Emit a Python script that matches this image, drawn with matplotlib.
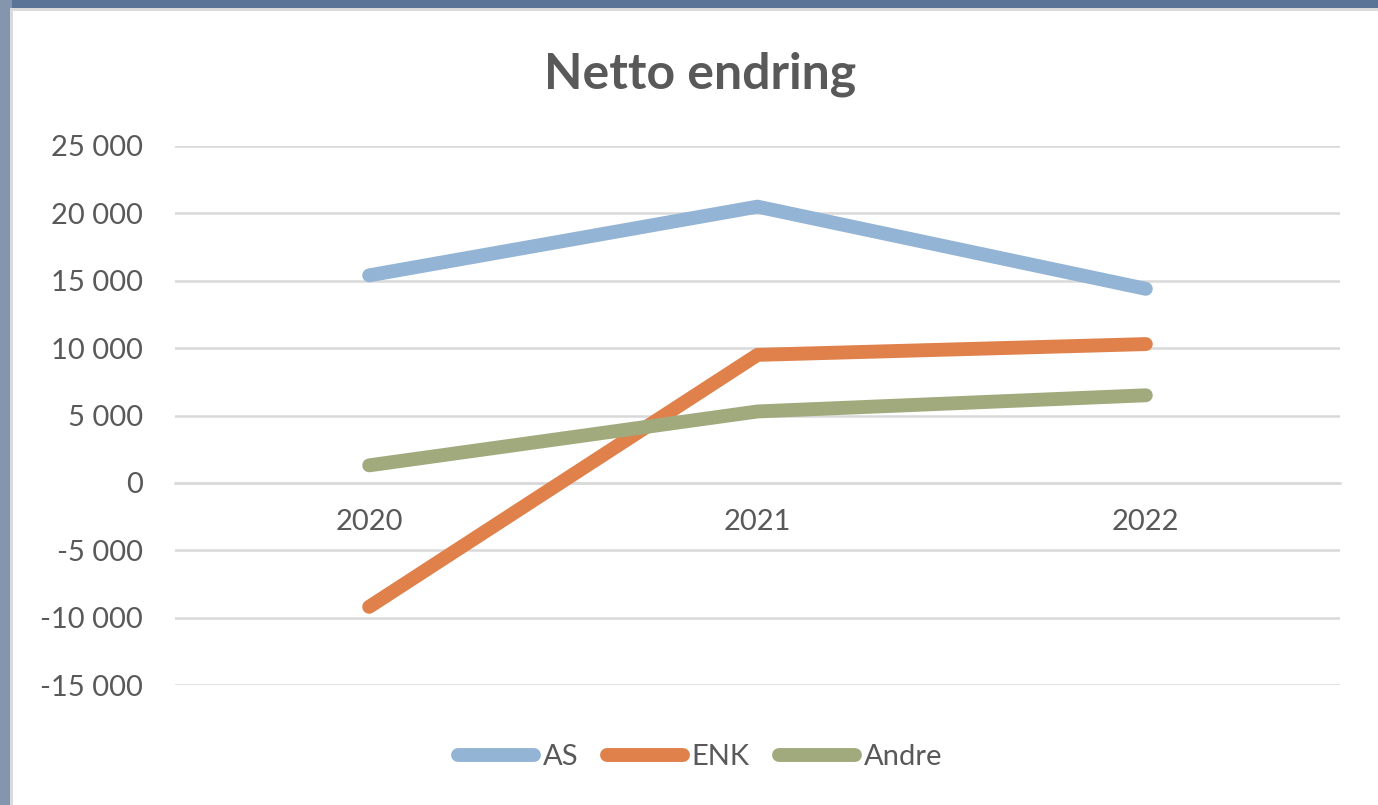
import matplotlib
matplotlib.use("Agg")
import matplotlib.pyplot as plt
from matplotlib.patches import Rectangle
from matplotlib.ticker import FuncFormatter, MultipleLocator

years = ["2020", "2021", "2022"]
as_vals = [15400, 20500, 14400]
enk_vals = [-9200, 9500, 10300]
andre_vals = [1300, 5300, 6500]
series_names = ["AS", "ENK", "Andre"]
colors = ["#93B4D4", "#E0804A", "#A1AA7D"]

plt.rcParams['font.family'] = ['Lato', 'DejaVu Sans']
txt = "#595959"

fig = plt.figure(figsize=(13.78, 8.05), dpi=100)
fig.patch.set_facecolor("#5A7498")
# left photo-ish strip
fig.patches.append(Rectangle((0, 0), 12/1378, 1, transform=fig.transFigure,
                             facecolor="#8496AE", edgecolor="none", zorder=-10))
# white chart area
fig.patches.append(Rectangle((10/1378, 0), 1 - 10/1378, 1 - 8/805, transform=fig.transFigure,
                             facecolor="#DADADA", edgecolor="none", zorder=-9))
fig.patches.append(Rectangle((13/1378, 0), 1 - 13/1378, 1 - 11/805, transform=fig.transFigure,
                             facecolor="white", edgecolor="none", zorder=-8))

ax = fig.add_axes([175/1378, 1 - 685/805, (1340 - 175)/1378, (685 - 146)/805])
ax.set_facecolor("none")

x = list(range(len(years)))
for vals, name, c in zip([as_vals, enk_vals, andre_vals], series_names, colors):
    ax.plot(x, vals, color=c, lw=10, solid_capstyle='round', solid_joinstyle='round',
            label=name, zorder=3)

ax.set_xlim(-0.5, 2.5)
ax.set_ylim(-15000, 25000)
ax.yaxis.set_major_locator(MultipleLocator(5000))
ax.yaxis.set_major_formatter(FuncFormatter(lambda v, p: f"{v:,.0f}".replace(",", " ")))
ax.grid(axis='y', color="#D9D9D9", lw=1.8, zorder=0)
ax.set_axisbelow(True)
for s in ['top', 'right', 'left']:
    ax.spines[s].set_visible(False)
ax.spines['bottom'].set_position(('data', 0))
ax.spines['bottom'].set_color("#D9D9D9")
ax.spines['bottom'].set_linewidth(1.8)
ax.set_xticks(x)
ax.set_xticklabels(years)
ax.tick_params(axis='both', length=0, labelsize=21, colors=txt)
ax.tick_params(axis='y', pad=23)
ax.tick_params(axis='x', pad=19)

fig.text(0.508, 1 - 74/805, "Netto endring", ha='center', va='center',
         fontsize=36, fontweight='bold', color=txt)

leg = fig.legend(loc='center', bbox_to_anchor=(0.508, 1 - 757/805), ncol=3, frameon=False,
                 fontsize=21, handlelength=2.6, handletextpad=0.3, columnspacing=1.0,
                 labelcolor=txt)
for line in leg.get_lines():
    line.set_linewidth(10)
    line.set_solid_capstyle('round')

fig.savefig("out.png", dpi=100, facecolor=fig.get_facecolor())
